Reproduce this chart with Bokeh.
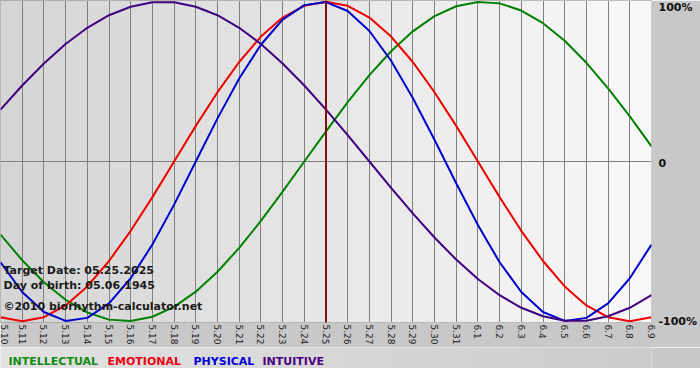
from bokeh.plotting import figure
from bokeh.models import Range1d, FixedTicker, Label, LinearAxis
from bokeh.layouts import column
from bokeh.embed import file_html
from bokeh.resources import INLINE

# ---- data ----
day_labels = ["5.10", "5.11", "5.12", "5.13", "5.14", "5.15", "5.16", "5.17", "5.18", "5.19",
              "5.20", "5.21", "5.22", "5.23", "5.24", "5.25", "5.26", "5.27", "5.28", "5.29",
              "5.30", "5.31", "6.1", "6.2", "6.3", "6.4", "6.5", "6.6", "6.7", "6.8", "6.9"]
days = list(range(len(day_labels)))
target_index = 15

physical = [-0.631, -0.817, -0.942, -0.998, -0.979, -0.888, -0.731, -0.520, -0.270, 0.0,
            0.270, 0.520, 0.731, 0.888, 0.979, 0.998, 0.942, 0.817, 0.631, 0.398,
            0.136, -0.136, -0.398, -0.631, -0.817, -0.942, -0.998, -0.979, -0.888, -0.731,
            -0.520]
emotional = [-0.975, -1.0, -0.975, -0.901, -0.782, -0.623, -0.434, -0.223, 0.0, 0.223,
             0.434, 0.623, 0.782, 0.901, 0.975, 1.0, 0.975, 0.901, 0.782, 0.623,
             0.434, 0.223, 0.0, -0.223, -0.434, -0.623, -0.782, -0.901, -0.975, -1.0,
             -0.975]
intellectual = [-0.458, -0.618, -0.756, -0.866, -0.945, -0.990, -0.999, -0.972, -0.910, -0.815,
                -0.690, -0.541, -0.372, -0.189, 0.0, 0.189, 0.372, 0.541, 0.690, 0.815,
                0.910, 0.972, 0.999, 0.990, 0.945, 0.866, 0.756, 0.618, 0.458, 0.282,
                0.095]
intuitive = [0.325, 0.476, 0.614, 0.736, 0.837, 0.916, 0.969, 0.997, 0.997, 0.969,
             0.916, 0.837, 0.736, 0.614, 0.476, 0.325, 0.165, 0.0, -0.165, -0.325,
             -0.476, -0.614, -0.736, -0.837, -0.916, -0.969, -0.997, -0.997, -0.969, -0.916,
             -0.837]

series_names = ["INTELLECTUAL", "EMOTIONAL", "PHYSICAL", "INTUITIVE"]
series_values = [intellectual, emotional, physical, intuitive]
series_colors = ["#008000", "#ee0000", "#0000cc", "#400080"]
legend_colors = ["#108a10", "#ee0010", "#0000dd", "#4b0082"]

info_lines = ["Target Date: 05.25.2025", "Day of birth: 05.06.1945", "\u00a92010 biorhythm-calculator.net"]
right_labels = ["100%", "0", "-100%"]
right_values = [1, 0, -1]

FONT = "DejaVu Sans"
YMAX = 1.008
FRAME_W, FRAME_H = 651, 322

p = figure(frame_width=FRAME_W, frame_height=FRAME_H, output_backend="svg", toolbar_location=None,
           x_range=Range1d(0, len(days) - 1), y_range=Range1d(-YMAX, YMAX),
           y_axis_location=None, min_border_left=0, min_border_right=0,
           min_border_top=0, min_border_bottom=0)
p.border_fill_color = "#c8c8c8"
p.background_fill_color = "#e6e6e6"
p.outline_line_color = "#808080"

# day bands, darker on the left, lighter on the right
n = len(days) - 1
band_colors = []
for i in range(n):
    g = int(round(213 + (248 - 213) * i / (n - 1)))
    band_colors.append("#%02x%02x%02x" % (g, g, g))
bands = p.quad(left=days[:-1], right=days[1:], bottom=-1.1, top=1.1, fill_color=band_colors,
               line_color=band_colors, line_width=1)
bands.level = "image"

# grids
p.xgrid.ticker = FixedTicker(ticks=days)
p.xgrid.grid_line_color = "#808080"
p.xgrid.grid_line_width = 1
p.ygrid.ticker = FixedTicker(ticks=[0])
p.ygrid.grid_line_color = "#808080"

# x axis
ax = p.xaxis[0]
ax.ticker = FixedTicker(ticks=days)
ax.major_label_overrides = {d: lab for d, lab in zip(days, day_labels)}
ax.major_label_orientation = -1.5708
ax.major_label_text_font = FONT
ax.major_label_text_font_size = "9px"
ax.major_label_text_color = "#202020"
ax.major_label_standoff = 2
ax.major_tick_out = 0
ax.major_tick_in = 0
ax.major_tick_line_color = None
ax.minor_tick_line_color = None
ax.axis_line_color = None
ax.axis_label_standoff = 0

# right axis with percentage labels (labels sit just below their lines)
px_per_unit = FRAME_H / (2 * YMAX)
right_shift_px = [6, 2, 0]
tick_pos = [v - s / px_per_unit for v, s in zip(right_values, right_shift_px)]
rax = LinearAxis(ticker=FixedTicker(ticks=tick_pos),
                 major_label_overrides={t: lab for t, lab in zip(tick_pos, right_labels)})
rax.major_label_text_font = FONT
rax.major_label_text_font_size = "11px"
rax.major_label_text_font_style = "bold"
rax.major_label_text_color = "#101010"
rax.major_label_standoff = 7
rax.major_tick_out = 0
rax.major_tick_in = 0
rax.major_tick_line_color = None
rax.minor_tick_line_color = None
rax.axis_line_color = None
rax.axis_label_standoff = 0
p.add_layout(rax, "right")

# curves
for vals, col in zip(series_values, series_colors):
    p.line(days, vals, line_color=col, line_width=2, line_join="round")

# target date line
p.segment(x0=[days[target_index]], y0=[-1.1], x1=[days[target_index]], y1=[1.1],
          line_color="#801010", line_width=2)

# info text
info_y = [-0.682, -0.776, -0.907]
for txt, yy in zip(info_lines, info_y):
    p.add_layout(Label(x=0, y=yy, x_offset=3, text=txt, text_font=FONT, text_font_size="11px",
                       text_font_style="bold", text_color="#1a1a1a", text_baseline="middle"))

# legend strip as a second small figure, aligned with the main frame
p2 = figure(frame_width=FRAME_W, frame_height=21, output_backend="svg", toolbar_location=None,
            x_range=Range1d(0, len(days) - 1), y_range=Range1d(0, 21),
            x_axis_location=None, y_axis_location=None,
            min_border_left=0, min_border_right=49, min_border_top=0, min_border_bottom=0)
p2.outline_line_color = None
p2.grid.visible = False
p2.border_fill_color = "#c8c8c8"
strip_colors = []
for i in range(n):
    g = int(round(226 - (226 - 204) * i / (n - 1)))
    strip_colors.append("#%02x%02x%02x" % (g, g, g))
p2.quad(left=days[:-1], right=days[1:], bottom=0, top=21, fill_color=strip_colors,
        line_color=strip_colors, line_width=1)

legend_x = [8, 107, 193, 262]
for txt, col, xo in zip(series_names, legend_colors, legend_x):
    p2.add_layout(Label(x=0, y=7, x_offset=xo, text=txt, text_font=FONT, text_font_size="11px",
                        text_font_style="bold", text_color=col, text_baseline="middle"))

layout = column(p, p2, spacing=0)
open("out.html", "w").write(file_html(layout, INLINE))
